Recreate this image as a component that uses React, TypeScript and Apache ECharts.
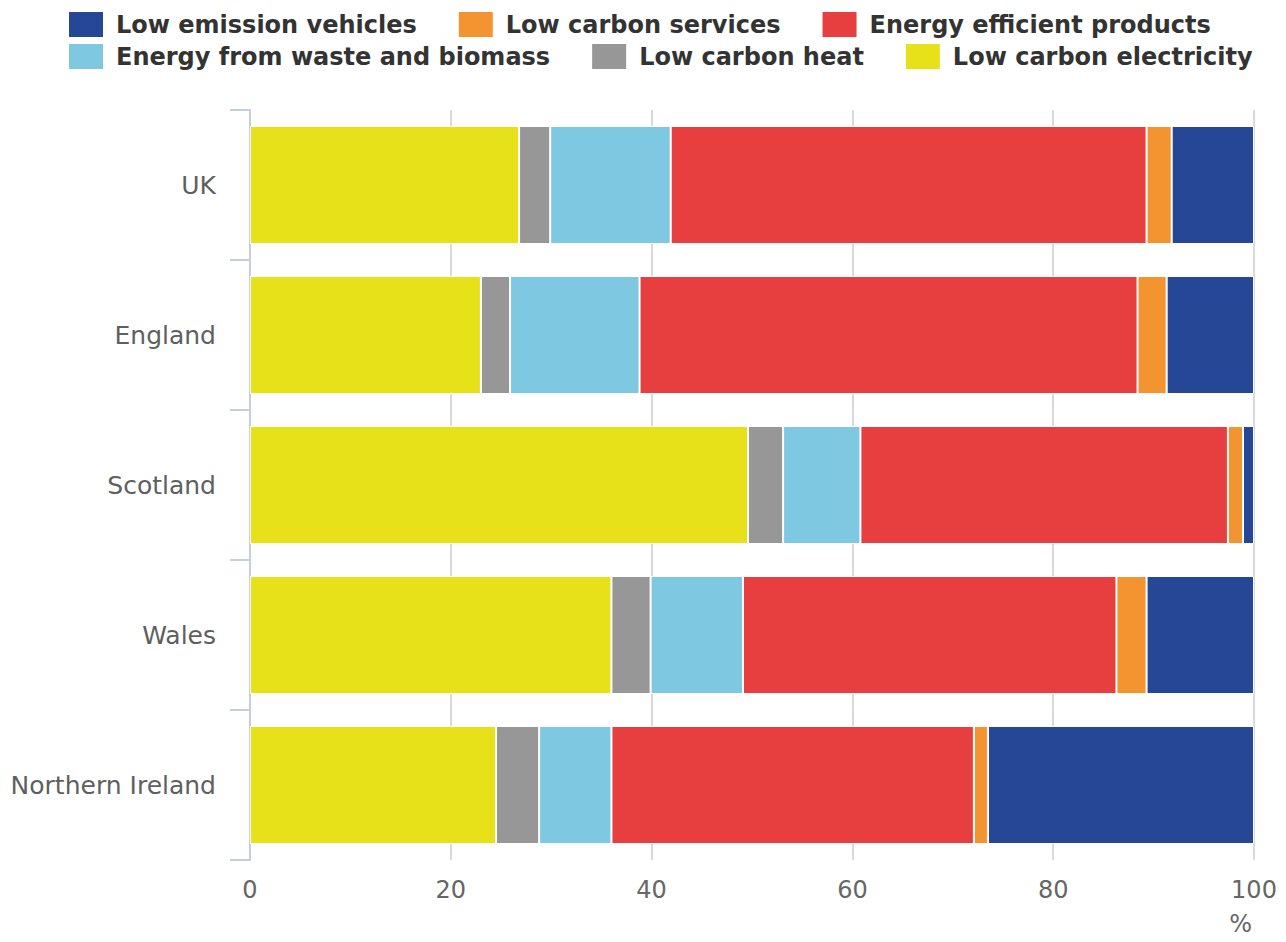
import React, { useEffect, useRef } from "react";
import * as echarts from "echarts";

const categories = ["UK", "England", "Scotland", "Wales", "Northern Ireland"];

// Shares of each sector, in per cent, per nation
const lowCarbonElectricity = [26.8, 23.0, 49.6, 36.0, 24.5];
const lowCarbonHeat = [3.1, 2.9, 3.5, 3.9, 4.3];
const energyFromWaste = [12.0, 12.9, 7.7, 9.2, 7.2];
const energyEfficientProducts = [47.4, 49.6, 36.6, 37.2, 36.1];
const lowCarbonServices = [2.5, 2.9, 1.5, 3.0, 1.4];
const lowEmissionVehicles = [8.2, 8.7, 1.1, 10.7, 26.5];

const xTicks = { min: 0, max: 100, interval: 20 };

const FONT = "DejaVu Sans";

const seriesDefs = [
  { name: "Low carbon electricity", data: lowCarbonElectricity, color: "#e6e118" },
  { name: "Low carbon heat", data: lowCarbonHeat, color: "#979797" },
  { name: "Energy from waste and biomass", data: energyFromWaste, color: "#7ec9e1" },
  { name: "Energy efficient products", data: energyEfficientProducts, color: "#e73f40" },
  { name: "Low carbon services", data: lowCarbonServices, color: "#f39431" },
  { name: "Low emission vehicles", data: lowEmissionVehicles, color: "#264796" },
];

const legendRow1 = ["Low emission vehicles", "Low carbon services", "Energy efficient products"];
const legendRow2 = ["Energy from waste and biomass", "Low carbon heat", "Low carbon electricity"];

const legendBase = {
  left: 67,
  orient: "horizontal",
  padding: 0,
  itemWidth: 36,
  itemHeight: 27,
  itemGap: 40,
  icon: "rect",
  selectedMode: false,
  textStyle: {
    fontFamily: FONT,
    fontSize: 24,
    fontWeight: "bold",
    color: "#333333",
    padding: [0, 0, 0, 7],
  },
};

export default function App() {
  const ref = useRef<HTMLDivElement>(null);

  useEffect(() => {
    if (!ref.current) return;
    const chart = echarts.init(ref.current, null, { renderer: "svg" });
    chart.setOption({
      animation: false,
      backgroundColor: "#ffffff",
      legend: [
        { ...legendBase, top: 10, data: legendRow1 },
        { ...legendBase, top: 42, data: legendRow2 },
      ],
      grid: { left: 250, right: 32, top: 110, bottom: 82, containLabel: false },
      xAxis: {
        type: "value",
        min: xTicks.min,
        max: xTicks.max,
        interval: xTicks.interval,
        axisLine: { show: false },
        axisTick: { show: false },
        axisLabel: {
          fontFamily: FONT,
          fontSize: 24,
          color: "#666666",
          margin: 18,
        },
        splitLine: {
          show: true,
          lineStyle: {
            color: ["#7a7a7a", "#d9d9d9", "#d9d9d9", "#d9d9d9", "#d9d9d9", "#d9d9d9"],
            width: 2,
          },
        },
      },
      yAxis: {
        type: "category",
        data: categories,
        inverse: true,
        axisLine: { show: true, lineStyle: { color: "#c3cfdc", width: 2 } },
        axisTick: { show: true, length: 20, lineStyle: { color: "#c3cfdc", width: 2 } },
        axisLabel: {
          fontFamily: FONT,
          fontSize: 25,
          color: "#5f5f5f",
          margin: 34,
        },
        splitLine: { show: false },
      },
      graphic: [
        {
          type: "text",
          right: 34,
          top: 912,
          style: { text: "%", fontFamily: FONT, fontSize: 24, fill: "#666666" },
        },
      ],
      series: seriesDefs.map((s) => ({
        name: s.name,
        type: "bar",
        stack: "total",
        data: s.data,
        barCategoryGap: "21.3%",
        itemStyle: { color: s.color, borderColor: "#ffffff", borderWidth: 1 },
        emphasis: { disabled: true },
      })),
    });
    return () => chart.dispose();
  }, []);

  return (
    <div
      ref={ref}
      style={{ position: "absolute", left: 0, top: 0, width: 1286, height: 942 }}
    />
  );
}
